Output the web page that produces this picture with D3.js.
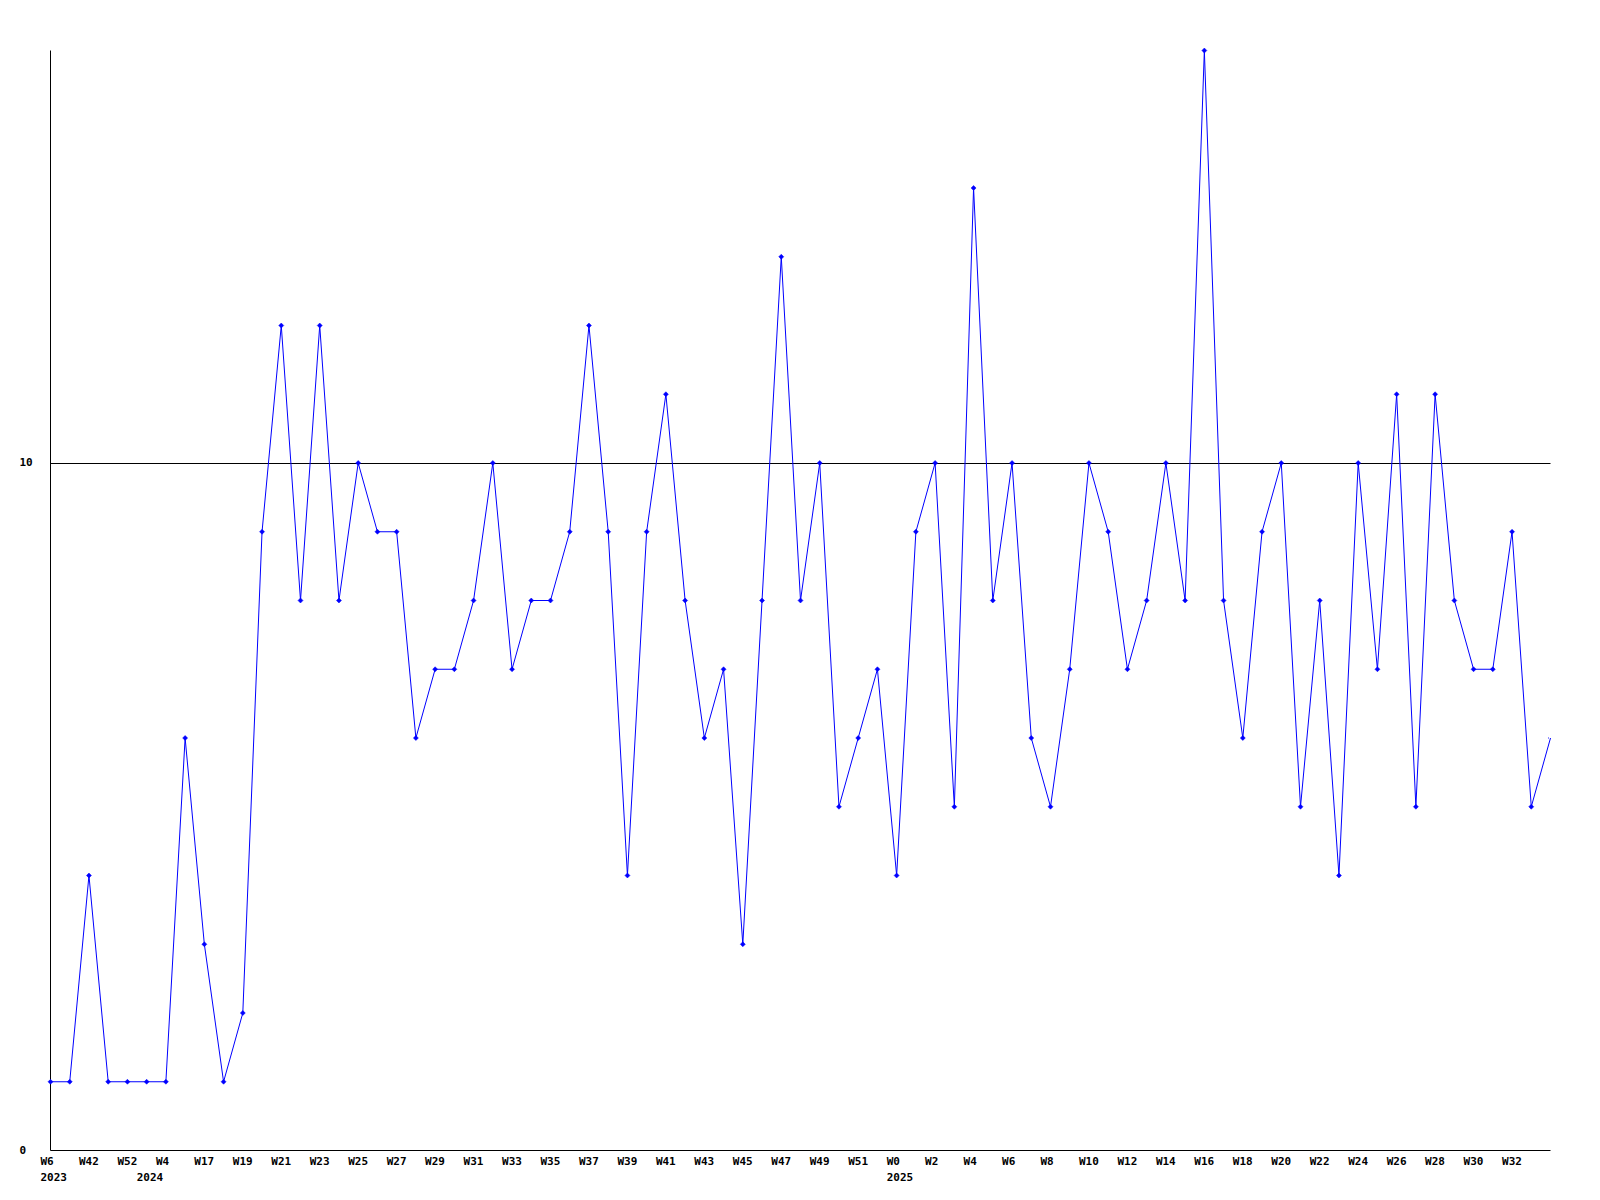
<!DOCTYPE html>
<html>
<head>
<meta charset="utf-8">
<script src="https://cdn.jsdelivr.net/npm/d3@7"></script>
<style>
  html, body { margin: 0; padding: 0; background: #fff; }
  svg { display: block; }
  text { font-family: "DejaVu Sans Mono", "Liberation Mono", monospace; font-size: 11px; font-weight: bold; fill: #000; }
</style>
</head>
<body>
<svg id="chart" width="1600" height="1200"></svg>
<script>
// ---- data ----
const weeks = [
  "W6","W40","W42","W47","W52","W1","W4","W10",
  "W17","W18","W19","W20","W21","W22","W23","W24","W25","W26","W27","W28",
  "W29","W30","W31","W32","W33","W34","W35","W36","W37","W38","W39","W40",
  "W41","W42","W43","W44","W45","W46","W47","W48","W49","W50","W51","W52",
  "W0","W1","W2","W3","W4","W5","W6","W7","W8","W9","W10","W11","W12","W13",
  "W14","W15","W16","W17","W18","W19","W20","W21","W22","W23","W24","W25",
  "W26","W27","W28","W29","W30","W31","W32","W33","W34"
];
const values = [
  1, 1, 4, 1, 1, 1, 1, 6,
  3, 1, 2, 9, 12, 8, 12, 8, 10, 9, 9, 6,
  7, 7, 8, 10, 7, 8, 8, 9, 12, 9, 4, 9,
  11, 8, 6, 7, 3, 8, 13, 8, 10, 5, 6, 7,
  4, 9, 10, 5, 14, 8, 10, 6, 5, 7, 10, 9, 7, 8,
  10, 8, 16, 8, 6, 9, 10, 5, 8, 4, 10, 7,
  11, 5, 11, 8, 7, 7, 9, 5, 6
];
const yearLabels = ["2023", "2024", "2025"];
const yearStartIndex = [0, 5, 44];
const yTicks = [0, 10];

// ---- layout ----
const svg = d3.select("#chart");
const mLeft = 50.5, mRight = 1550.5, mTop = 50.5, mBottom = 1150.5;

const x = d3.scalePoint().domain(d3.range(values.length)).range([mLeft, mRight]);
const y = d3.scaleLinear().domain([0, 16]).range([mBottom, mTop]);

svg.append("defs").append("clipPath").attr("id", "plotclip")
  .append("rect").attr("x", mLeft - 5).attr("y", 0).attr("width", mRight - mLeft + 3).attr("height", 1200);

// gridline at 10
svg.selectAll("line.grid").data(yTicks.filter(d => d > 0)).enter().append("line")
  .attr("class", "grid")
  .attr("x1", mLeft).attr("x2", mRight)
  .attr("y1", d => Math.round(y(d)) + 0.5).attr("y2", d => Math.round(y(d)) + 0.5)
  .attr("stroke", "#000").attr("stroke-width", 1);

// y labels
svg.selectAll("text.ylab").data(yTicks).enter().append("text")
  .attr("class", "ylab")
  .attr("x", 19.5)
  .attr("y", d => y(d) + 3)
  .text(d => d);

// axes lines
svg.append("line").attr("x1", mLeft).attr("x2", mLeft).attr("y1", mTop).attr("y2", mBottom)
  .attr("stroke", "#000").attr("stroke-width", 1);
svg.append("line").attr("x1", mLeft).attr("x2", mRight).attr("y1", mBottom).attr("y2", mBottom)
  .attr("stroke", "#000").attr("stroke-width", 1);

// x week labels (every other point)
const labelIdx = d3.range(values.length).filter(i => i % 2 === 0 && i < values.length - 1);
svg.selectAll("text.wk").data(labelIdx).enter().append("text")
  .attr("class", "wk")
  .attr("x", i => x(i) - 10)
  .attr("y", 1165)
  .text(i => weeks[i]);

// year labels
svg.selectAll("text.yr").data(yearLabels).enter().append("text")
  .attr("class", "yr")
  .attr("x", (d, k) => x(yearStartIndex[k]) - 10)
  .attr("y", 1181)
  .text(d => d);

// line
const line = d3.line().x((d, i) => x(i)).y(d => y(d));
svg.append("path").datum(values)
  .attr("d", line)
  .attr("fill", "none")
  .attr("stroke", "#0000ff")
  .attr("stroke-width", 1);

// markers
const diamond = "M0,-2.5L2.5,0L0,2.5L-2.5,0Z";
svg.append("g").attr("clip-path", "url(#plotclip)")
  .selectAll("path.mk").data(values).enter().append("path")
  .attr("class", "mk")
  .attr("transform", (d, i) => `translate(${x(i)},${y(d)})`)
  .attr("d", diamond)
  .attr("fill", "#0000ff")
  .attr("stroke", "#0000ff")
  .attr("stroke-width", 0.5);
</script>
</body>
</html>
